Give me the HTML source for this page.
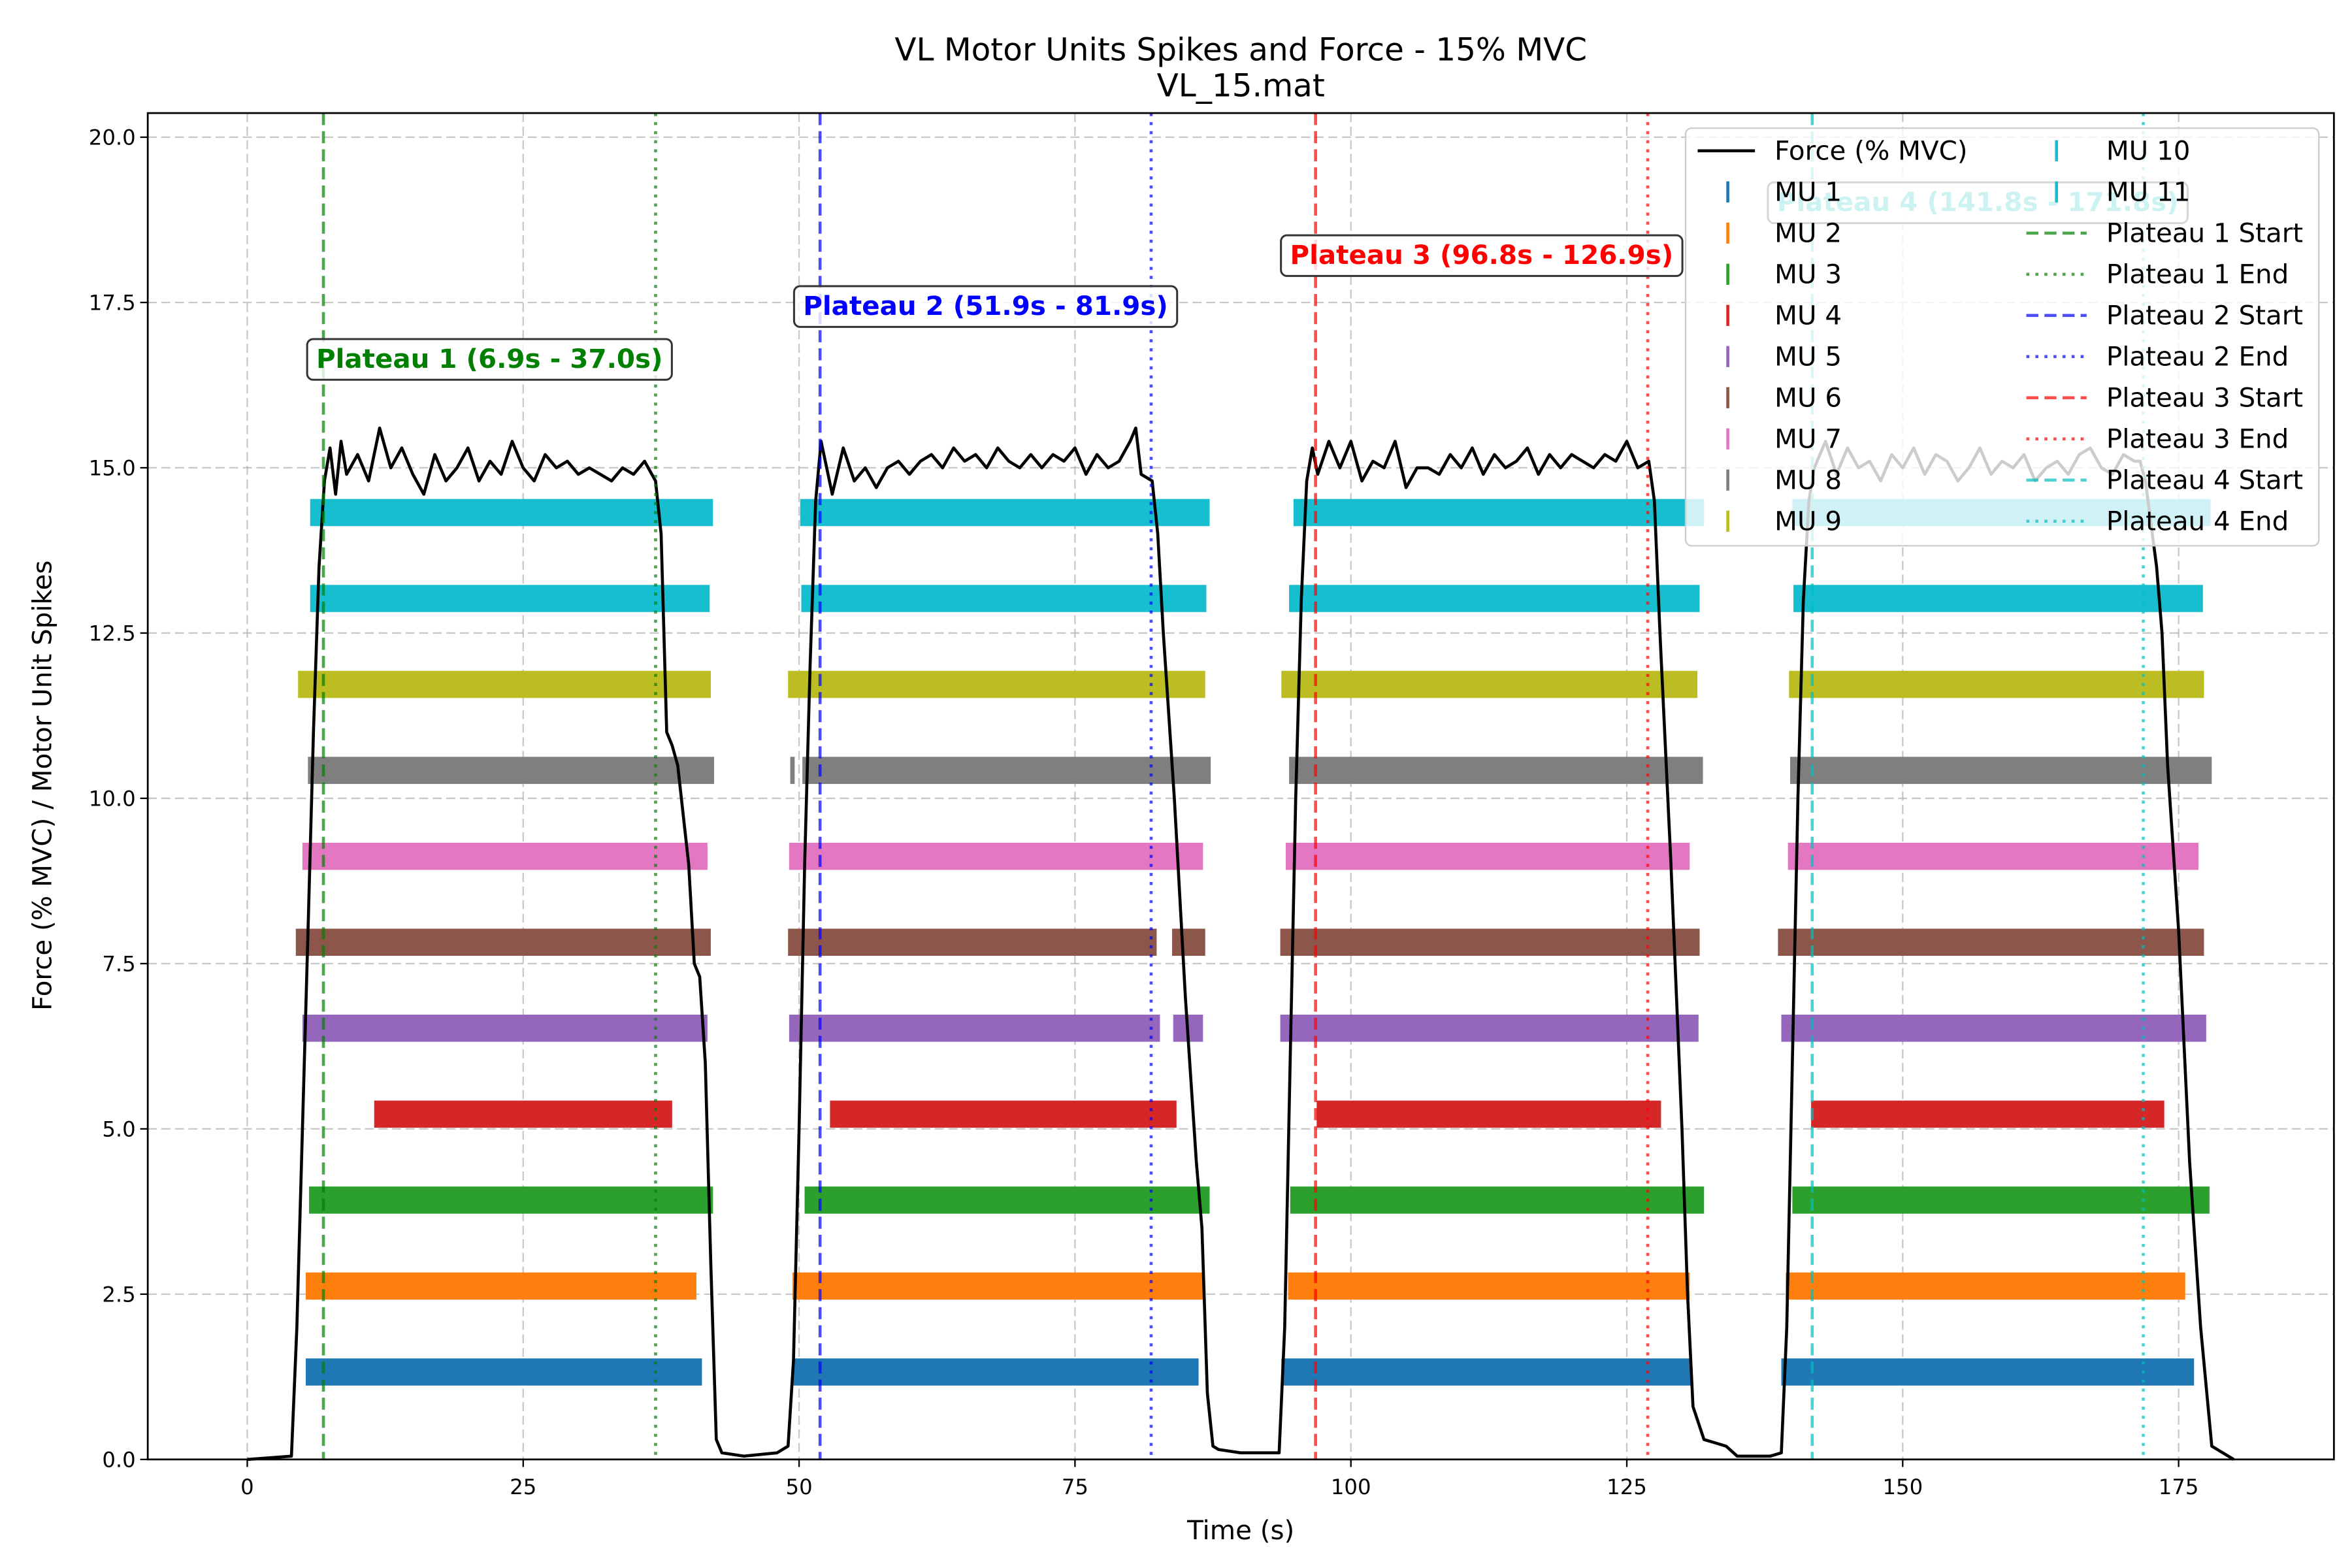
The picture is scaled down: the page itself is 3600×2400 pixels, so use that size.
<!DOCTYPE html>
<html><head><meta charset="utf-8"><style>
html,body{margin:0;padding:0;background:#fff;}
svg{display:block;font-family:"DejaVu Sans","Liberation Sans",sans-serif;}
</style></head><body>
<svg id="chart" width="3600" height="2400" viewBox="0 0 1560 1040" xmlns="http://www.w3.org/2000/svg">
<rect x="0" y="0" width="1560" height="1040" fill="#fff"/>
<text x="823" y="40" font-size="21" text-anchor="middle">VL Motor Units Spikes and Force - 15% MVC</text>
<text x="823" y="64" font-size="21" text-anchor="middle">VL_15.mat</text>
<g id="grid"></g><g id="bars"></g><g id="force"></g><g id="vlines"></g><g id="annots"></g><g id="axes"></g><g id="legend"></g>
<text x="823" y="1021" font-size="17.5" text-anchor="middle">Time (s)</text>
<text transform="translate(34,521) rotate(-90)" font-size="17.5" text-anchor="middle">Force (% MVC) / Motor Unit Spikes</text>
</svg>
<script>
const xTicks=[0,25,50,75,100,125,150,175];
const yTicks=[0,2.5,5,7.5,10,12.5,15,17.5,20];
const yTickLabels=["0.0","2.5","5.0","7.5","10.0","12.5","15.0","17.5","20.0"];
const muNames=["MU 1","MU 2","MU 3","MU 4","MU 5","MU 6","MU 7","MU 8","MU 9","MU 10","MU 11"];
const muColors=["#1f77b4","#ff7f0e","#2ca02c","#d62728","#9467bd","#8c564b","#e377c2","#7f7f7f","#bcbd22","#17becf","#17becf"];
const muLevels=[1.3,2.6,3.9,5.2,6.5,7.8,9.1,10.4,11.7,13.0,14.3];
const muSegments=[
[[5.3,41.2],[49.5,86.2],[93.7,130.8],[139,176.4]],
[[5.3,40.7],[49.4,86.6],[94.3,130.7],[139.4,175.6]],
[[5.6,42.2],[50.5,87.2],[94.5,132],[140,177.8]],
[[11.5,38.5],[52.8,84.2],[96.9,128.1],[141.7,173.7]],
[[5,41.7],[49.1,82.7],[83.9,86.6],[93.6,131.5],[139,177.5]],
[[4.4,42],[49,82.4],[83.8,86.8],[93.6,131.6],[138.7,177.3]],
[[5,41.7],[49.1,86.6],[94.1,130.7],[139.6,176.8]],
[[5.5,42.3],[49.2,49.6],[50.3,87.3],[94.4,131.9],[139.8,178]],
[[4.6,42],[49,86.8],[93.7,131.4],[139.7,177.3]],
[[5.7,41.9],[50.2,86.9],[94.4,131.6],[140.1,177.2]],
[[5.7,42.2],[50.1,87.2],[94.8,132],[140,177.9]]
];
const forceT=[0,4,4.5,5,5.5,6,6.5,7,7.5,8,8.5,9,10,11,12,13,14,15,16,17,18,19,20,21,22,23,24,25,26,27,28,29,30,31,32,33,34,35,36,37,37.5,38,38.5,39,40,40.5,41,41.5,42,42.5,43,45,48,49,
49.5,50,50.5,51,51.5,52,53,54,55,56,57,58,59,60,61,62,63,64,65,66,67,68,69,70,71,72,73,74,75,76,77,78,79,80,80.5,81,82,82.5,83,84,85,86,86.5,87,87.5,88,90,93,
93.5,94,94.5,95,95.5,96,96.5,97,98,99,100,101,102,103,104,105,106,107,108,109,110,111,112,113,114,115,116,117,118,119,120,121,122,123,124,125,126,127,127.5,128,129,130,130.5,131,132,133,134,135,138,139,
139.5,140,140.5,141,141.5,142,143,144,145,146,147,148,149,150,151,152,153,154,155,156,157,158,159,160,161,162,163,164,165,166,167,168,169,170,171,171.5,172,173,173.5,174,175,176,177,178,179,180];
const forceV=[0,0.05,2,5,8,11,13.5,14.8,15.3,14.6,15.4,14.9,15.2,14.8,15.6,15.0,15.3,14.9,14.6,15.2,14.8,15.0,15.3,14.8,15.1,14.9,15.4,15.0,14.8,15.2,15.0,15.1,14.9,15.0,14.9,14.8,15.0,14.9,15.1,14.8,14.0,11.0,10.8,10.5,9.0,7.5,7.3,6.0,3.0,0.3,0.1,0.05,0.1,0.2,
1.5,5,9,12,14.5,15.4,14.6,15.3,14.8,15.0,14.7,15.0,15.1,14.9,15.1,15.2,15.0,15.3,15.1,15.2,15.0,15.3,15.1,15.0,15.2,15.0,15.2,15.1,15.3,14.9,15.2,15.0,15.1,15.4,15.6,14.9,14.8,14.0,12.5,10,7,4.5,3.5,1.0,0.2,0.15,0.1,0.1,
0.1,2,6,10,13,14.8,15.3,14.9,15.4,15.0,15.4,14.8,15.1,15.0,15.4,14.7,15.0,15.0,14.9,15.2,15.0,15.3,14.9,15.2,15.0,15.1,15.3,14.9,15.2,15.0,15.2,15.1,15.0,15.2,15.1,15.4,15.0,15.1,14.5,12.5,9,5,2.5,0.8,0.3,0.25,0.2,0.05,0.05,0.1,
2,6,10,13,14.5,15.0,15.4,14.9,15.3,15.0,15.1,14.8,15.2,15.0,15.3,14.9,15.2,15.1,14.8,15.0,15.3,14.9,15.1,15.0,15.2,14.8,15.0,15.1,14.9,15.2,15.3,15.0,14.9,15.2,15.1,15.1,14.8,13.5,12.5,10.5,8,4.5,2,0.2,0.1,0];
const plateauStarts=[6.9,51.9,96.8,141.8];
const plateauEnds=[37.0,81.9,126.9,171.8];
const plateauColors=["#008000","#0000ff","#ff0000","#00bfbf"];
const annotLabels=["Plateau 1 (6.9s - 37.0s)","Plateau 2 (51.9s - 81.9s)","Plateau 3 (96.8s - 126.9s)","Plateau 4 (141.8s - 171.8s)"];
const annotY=[16.65,17.45,18.22,19.02];

const NS="http://www.w3.org/2000/svg";
const L=98,R=1548,T=75,B=968;
const X=t=>164+t*(347-164)/25;
const Y=v=>B-v*(B-91)/20;
function mk(tag,attrs,parent){const e=document.createElementNS(NS,tag);for(const k in attrs)e.setAttribute(k,attrs[k]);parent.appendChild(e);return e;}
const g=id=>document.getElementById(id);

xTicks.forEach(t=>{const l=mk('line',{x1:X(t),x2:X(t),y1:T,y2:B,stroke:'#b0b0b0','stroke-opacity':0.7,'stroke-dasharray':'6,3','stroke-width':1},g('grid'));

});
yTicks.forEach(v=>{const l=mk('line',{x1:L,x2:R,y1:Y(v),y2:Y(v),stroke:'#b0b0b0','stroke-opacity':0.7,'stroke-dasharray':'6,3','stroke-width':1},g('grid'));

});

muSegments.forEach((segs,i)=>segs.forEach(s=>{const r=mk('rect',{x:X(s[0]),y:Y(muLevels[i])-10,width:X(s[1])-X(s[0]),height:18,fill:muColors[i]},g('bars'));

}));

let d='';forceT.forEach((t,i)=>{d+=(i?'L':'M')+X(t).toFixed(1)+','+Y(forceV[i]).toFixed(1);});
const fp=mk('path',{d:d,fill:'none',stroke:'#000','stroke-width':2,'stroke-linejoin':'round'},g('force'));



plateauStarts.forEach((t,i)=>{const a=mk('line',{x1:X(t),x2:X(t),y1:T,y2:B,stroke:plateauColors[i],'stroke-opacity':0.7,'stroke-width':2,'stroke-dasharray':'8,4'},g('vlines'));


const b=mk('line',{x1:X(plateauEnds[i]),x2:X(plateauEnds[i]),y1:T,y2:B,stroke:plateauColors[i],'stroke-opacity':0.7,'stroke-width':2,'stroke-dasharray':'2,4'},g('vlines'));

});

annotLabels.forEach((s,i)=>{const cx=X((plateauStarts[i]+plateauEnds[i])/2),cy=Y(annotY[i]);
const r=mk('rect',{rx:4,fill:'#fff','fill-opacity':0.8,stroke:'#333','stroke-width':1.3},g('annots'));


const tx=mk('text',{x:cx,y:cy+6,'text-anchor':'middle','font-size':17.5,'font-weight':'bold',fill:plateauColors[i]},g('annots'));
tx.textContent=s;


const bb=tx.getBBox();const w=bb.width+12;
r.setAttribute('x',cx-w/2);r.setAttribute('y',cy-13);r.setAttribute('width',w);r.setAttribute('height',27);});

const ax=g('axes');
const fr=mk('rect',{x:L,y:T,width:R-L,height:B-T,fill:'none',stroke:'#000','stroke-width':1.2},ax);


xTicks.forEach(t=>{mk('line',{x1:X(t),x2:X(t),y1:B,y2:B+5,stroke:'#000'},ax);
const tx=mk('text',{x:X(t),y:B+23,'text-anchor':'middle','font-size':14},ax);tx.textContent=t;

});
yTicks.forEach((v,i)=>{mk('line',{x1:L-5,x2:L,y1:Y(v),y2:Y(v),stroke:'#000'},ax);
const tx=mk('text',{x:L-8,y:Y(v)+5,'text-anchor':'end','font-size':14},ax);tx.textContent=yTickLabels[i];

});

const lg=g('legend');
const lb=mk('rect',{x:1118,y:85,width:420,height:277,rx:4,fill:'#fff','fill-opacity':0.8,stroke:'#ccc','stroke-width':1},lg);


const rowY=i=>100+i*27.3;
function legText(x,y,s){const t=mk('text',{x:x,y:y+6,'font-size':17.5},lg);t.textContent=s;

}
mk('line',{x1:1126,x2:1164,y1:rowY(0),y2:rowY(0),stroke:'#000','stroke-width':2},lg);
legText(1177,rowY(0),'Force (% MVC)');
muNames.forEach((n,i)=>{const col=i<9?0:1,row=i<9?i+1:i-9;const mx=col?1364:1146,tx=col?1397:1177;
const m=mk('line',{x1:mx,x2:mx,y1:rowY(row)-7,y2:rowY(row)+7,stroke:muColors[i],'stroke-width':2},lg);


legText(tx,rowY(row),n);});
plateauStarts.forEach((t,i)=>{[0,1].forEach(k=>{const row=2+i*2+k;
mk('line',{x1:1344,x2:1384,y1:rowY(row),y2:rowY(row),stroke:plateauColors[i],'stroke-opacity':0.7,'stroke-width':2,'stroke-dasharray':k?'2,4':'8,4'},lg);
legText(1397,rowY(row),'Plateau '+(i+1)+(k?' End':' Start'));});});
</script>
</body></html>
